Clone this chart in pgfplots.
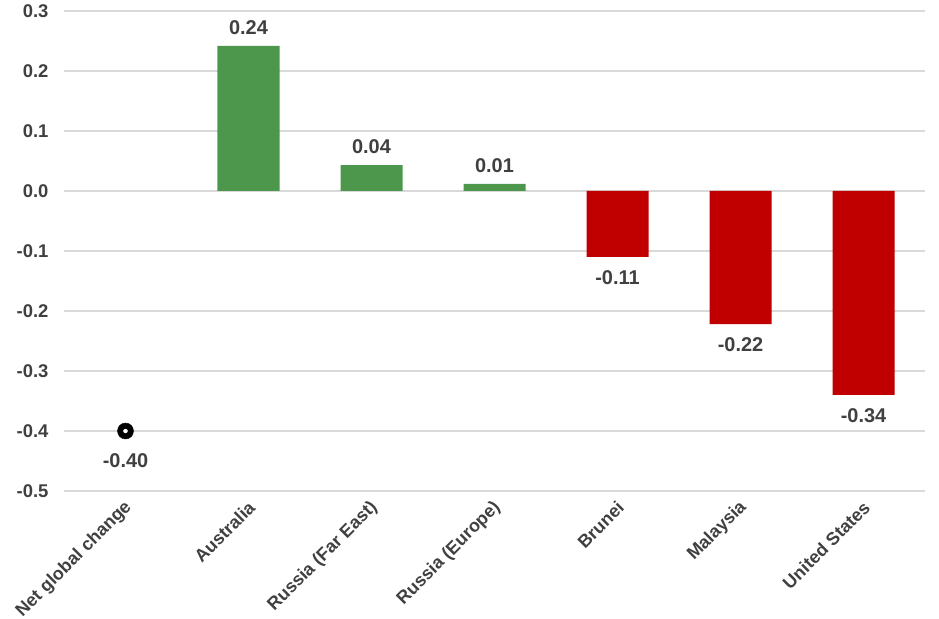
\documentclass[border=0pt]{standalone}
\usepackage{fontspec}
\setmainfont{Liberation Sans}
\usepackage{pgfplots}
\pgfplotsset{compat=1.18}
\definecolor{barGreen}{RGB}{76,151,76}
\definecolor{barRed}{RGB}{192,0,0}
\definecolor{gridGray}{RGB}{217,217,217}
\definecolor{txt}{RGB}{64,64,64}
\begin{document}
\begin{tikzpicture}
\useasboundingbox (-64bp,-128bp) rectangle (875bp,491bp);
\begin{axis}[at={(0,0)}, anchor=south west, scale only axis,
  width=861bp, height=480bp,
  xmin=-0.5, xmax=6.5, ymin=-0.5, ymax=0.3,
  axis line style={draw=none}, tick style={draw=none}, major tick length=0pt,
  ytick={-0.5,-0.4,-0.3,-0.2,-0.1,0,0.1,0.2,0.3},
  ymajorgrids, grid style={gridGray, line width=1.3bp},
  xtick={0,1,2,3,4,5,6},
  xticklabels={Net global change, Australia, Russia (Far East), Russia (Europe), Brunei, Malaysia, United States},
  xticklabel style={rotate=45, anchor=east, font=\bfseries\fontsize{18}{20}\selectfont, text=txt, yshift=-12bp, xshift=-4bp},
  yticklabel style={font=\bfseries\fontsize{18.5}{20}\selectfont, text=txt, xshift=-12bp},
  /pgf/number format/assume math mode=true,
  yticklabel={\pgfmathprintnumber[fixed, fixed zerofill, precision=1]{\tick}},
  clip=false,
  nodes near coords={\pgfmathprintnumber[fixed, fixed zerofill, precision=2]{\pgfplotspointmeta}},
  nodes near coords style={font=\bfseries\fontsize{20}{22}\selectfont, text=txt},
]
\addplot[ybar, bar width=62bp, bar shift=0pt, fill=barGreen, draw=none,
  every node near coord/.append style={anchor=south, yshift=8bp}]
  coordinates {(1,0.242) (2,0.043) (3,0.012)};
\addplot[ybar, bar width=62bp, bar shift=0pt, fill=barRed, draw=none,
  every node near coord/.append style={anchor=north, yshift=-10bp}]
  coordinates {(4,-0.110) (5,-0.222) (6,-0.340)};
\addplot[only marks, mark=*, mark size=8bp, mark options={fill=black, draw=black},
  every node near coord/.append style={anchor=north, yshift=-19bp}]
  coordinates {(0,-0.40)};
\addplot[only marks, mark=*, mark size=2bp, mark options={fill=white, draw=white},
  nodes near coords={}]
  coordinates {(0,-0.40)};
\end{axis}
\end{tikzpicture}
\end{document}
